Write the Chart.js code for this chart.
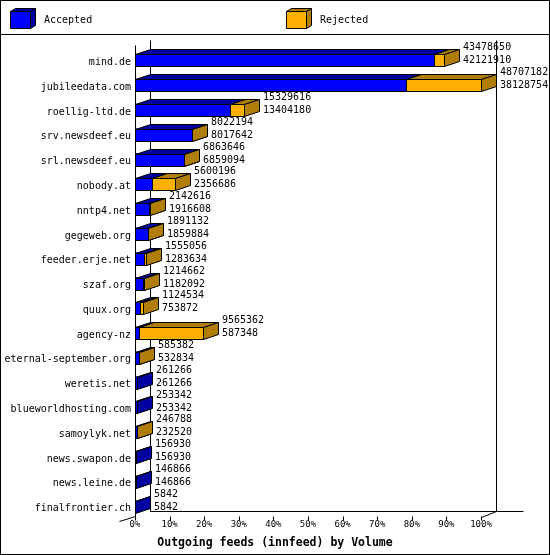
<!DOCTYPE html>
<html>
<head>
<meta charset="utf-8">
<script src="https://cdn.jsdelivr.net/npm/chart.js@4.4.0/dist/chart.umd.min.js"></script>
<style>
  body { margin: 0; background: #fff; }
  canvas { display: block; }
</style>
</head>
<body>
<canvas id="feeds" width="550" height="555"></canvas>
<script>
const servers = ['mind.de', 'jubileedata.com', 'roellig-ltd.de', 'srv.newsdeef.eu', 'srl.newsdeef.eu',
  'nobody.at', 'nntp4.net', 'gegeweb.org', 'feeder.erje.net', 'szaf.org', 'quux.org', 'agency-nz',
  'eternal-september.org', 'weretis.net', 'blueworldhosting.com', 'samoylyk.net', 'news.swapon.de',
  'news.leine.de', 'finalfrontier.ch'];
const offered = [43478650, 48707182, 15329616, 8022194, 6863646, 5600196, 2142616, 1891132, 1555056,
  1214662, 1124534, 9565362, 585382, 261266, 253342, 246788, 156930, 146866, 5842];
const accepted = [42121910, 38128754, 13404180, 8017642, 6859094, 2356686, 1916608, 1859884, 1283634,
  1182092, 753872, 587348, 532834, 261266, 253342, 232520, 156930, 146866, 5842];
const tickLabels = ['0%', '10%', '20%', '30%', '40%', '50%', '60%', '70%', '80%', '90%', '100%'];

const rejected = offered.map((v, i) => v - accepted[i]);
const maxVolume = Math.max(...offered);

const DX = 15, DY = 5;
const MONO = '"DejaVu Sans Mono", "Liberation Mono", monospace';

function poly(ctx, pts, fill) {
  ctx.beginPath();
  pts.forEach(([x, y], i) => i ? ctx.lineTo(x + .5, y + .5) : ctx.moveTo(x + .5, y + .5));
  ctx.closePath();
  ctx.fillStyle = fill;
  ctx.fill();
  ctx.stroke();
}

function line(ctx, x1, y1, x2, y2) {
  ctx.beginPath();
  ctx.moveTo(x1 + .5, y1 + .5);
  ctx.lineTo(x2 + .5, y2 + .5);
  ctx.stroke();
}

// box with top and right faces, front face l..r / t..b
function box(ctx, l, r, t, b, front, shade, dx, dy) {
  poly(ctx, [[l, t], [r, t], [r, b], [l, b]], front);
  poly(ctx, [[l, t], [l + dx, t - dy], [r + dx, t - dy], [r, t]], shade);
  poly(ctx, [[r, t], [r + dx, t - dy], [r + dx, b - dy], [r, b]], shade);
}

const bars3d = {
  id: 'bars3d',
  beforeDatasetsDraw(chart) {
    const ctx = chart.ctx, a = chart.chartArea;
    const l = Math.round(a.left), r = Math.round(a.right);
    const t = Math.round(a.top) - 3, b = Math.round(a.bottom) - 3;
    ctx.save();
    ctx.strokeStyle = '#000';
    ctx.lineWidth = 1;
    line(ctx, l + DX, t - DY, l + DX, b - DY);
    line(ctx, r + DX, t - DY, r + DX, b - DY);
    line(ctx, l + DX, b - DY, r + DX + 27, b - DY);
    line(ctx, r, b + 1, r + DX, b - DY);
    line(ctx, l - 16, b + 5, l, b);
    ctx.restore();
  },
  afterDatasetsDraw(chart) {
    const ctx = chart.ctx, a = chart.chartArea;
    const xs = chart.scales.x, ys = chart.scales.y;
    ctx.save();
    ctx.strokeStyle = '#000';
    ctx.lineWidth = 1;
    // faces, accepted first so the rejected part covers its right side
    chart.data.datasets.forEach((ds, di) => {
      chart.getDatasetMeta(di).data.forEach((bar, i) => {
        if (!(ds.data[i] > 0)) return;
        const l = Math.round(Math.min(bar.base, bar.x));
        const r = Math.round(Math.max(bar.base, bar.x));
        const t = Math.round(bar.y - bar.height / 2);
        const b = t + Math.round(bar.height);
        box(ctx, l, r, t, b, ds.backgroundColor, ds.shade, DX, DY);
      });
    });
    const l = Math.round(a.left);
    const t = Math.round(a.top) - 3, b = Math.round(a.bottom) - 3;
    line(ctx, l, t, l, b);
    xs.ticks.forEach(tk => {
      const x = Math.round(xs.getPixelForValue(tk.value));
      line(ctx, x, b, x, b + 4);
    });
    // value labels: offered on top, accepted below
    ctx.fillStyle = '#000';
    ctx.font = '10px ' + MONO;
    ctx.textAlign = 'left';
    ctx.textBaseline = 'middle';
    servers.forEach((s, i) => {
      const x = Math.round(xs.getPixelForValue(offered[i])) + DX + 4;
      const y = ys.getPixelForValue(i);
      ctx.fillText(String(offered[i]), x, y - 12.5);
      ctx.fillText(String(accepted[i]), x, y + 0.5);
    });
    ctx.restore();
  },
  afterDraw(chart) {
    const ctx = chart.ctx;
    ctx.save();
    ctx.strokeStyle = '#000';
    ctx.lineWidth = 1;
    ctx.strokeRect(0.5, 0.5, 549, 554);
    line(ctx, 0, 34, 549, 34);
    // legend
    const legendX = [10, 286];
    ctx.font = '10px ' + MONO;
    ctx.textBaseline = 'middle';
    ctx.textAlign = 'left';
    chart.data.datasets.forEach((ds, i) => {
      const x = legendX[i];
      box(ctx, x, x + 20, 11, 28, ds.backgroundColor, ds.shade, 5, 3);
      ctx.fillStyle = '#000';
      ctx.fillText(ds.label, x + 34, 20);
    });
    // axis title
    ctx.font = 'bold 11.5px ' + MONO;
    ctx.textAlign = 'center';
    ctx.fillText('Outgoing feeds (innfeed) by Volume', 275, 543);
    ctx.restore();
  }
};

new Chart(document.getElementById('feeds'), {
  type: 'bar',
  data: {
    labels: servers,
    datasets: [
      { label: 'Accepted', data: accepted, backgroundColor: '#0000ff', shade: '#0000a0',
        borderWidth: 0, barThickness: 12 },
      { label: 'Rejected', data: rejected, backgroundColor: '#ffb000', shade: '#b07e08',
        borderWidth: 0, barThickness: 12 }
    ]
  },
  options: {
    indexAxis: 'y',
    responsive: false,
    animation: false,
    devicePixelRatio: 1,
    layout: { padding: { top: 48, right: 69, bottom: 0, left: 0 } },
    plugins: { legend: { display: false }, tooltip: { enabled: false } },
    scales: {
      x: {
        stacked: true,
        min: 0,
        max: maxVolume,
        grid: { display: false, drawTicks: false },
        border: { display: false },
        afterBuildTicks: s => { s.ticks = tickLabels.map((_, i) => ({ value: i / (tickLabels.length - 1) * maxVolume })); },
        afterFit: s => { s.height = 36; },
        ticks: {
          color: '#000',
          padding: 0,
          maxRotation: 0,
          font: { family: MONO, size: 9 },
          callback: (v, i) => tickLabels[i]
        }
      },
      y: {
        stacked: true,
        grid: { display: false, drawTicks: false },
        border: { display: false },
        afterFit: s => { s.width = 135; },
        ticks: {
          color: '#000',
          padding: 4,
          autoSkip: false,
          labelOffset: 2,
          font: { family: MONO, size: 10 }
        }
      }
    }
  },
  plugins: [bars3d]
});
</script>
</body>
</html>
